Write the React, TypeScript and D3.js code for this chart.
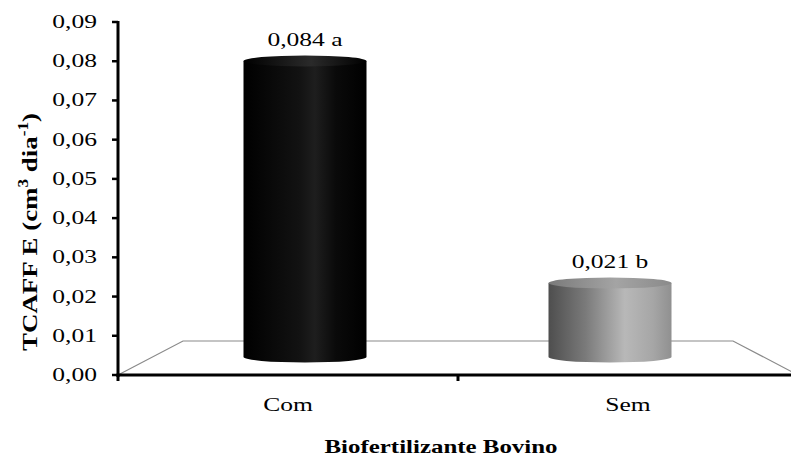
import React from "react";
import * as d3 from "d3";

const categories = ["Com", "Sem"];
const values = [0.084, 0.021];
const valueLabels = ["0,084 a", "0,021 b"];
const yTicks = [0, 0.01, 0.02, 0.03, 0.04, 0.05, 0.06, 0.07, 0.08, 0.09];
const xTitle = "Biofertilizante Bovino";

const W = 791;
const H = 457;
const FONT = "Liberation Serif";
const SX = 1.38;

export default function App() {
  // front-plane axis scale
  const yAxis = d3.scaleLinear().domain([0, 0.09]).range([375, 22]);
  // bar scale (mid-depth plane)
  const yBar = d3.scaleLinear().domain([0, 0.09]).range([357, 357 - 0.09 * 3524]);
  const xFront = d3.scaleBand().domain(categories).range([118, 798]);
  const xBar = d3.scalePoint().domain(categories).range([305, 610]);
  const barW = 123;
  const ry = 5.5;
  const depthDx = 65;
  const depthDy = -34;
  const x0 = xFront.range()[0];
  const x1 = xFront.range()[1];
  const y0 = yAxis(0);
  const fmt = (v: number) => d3.format(".2f")(v).replace(".", ",");

  const grads = [
    { id: "g0", stops: [["0%", "#000"], ["45%", "#121212"], ["58%", "#1e1e1e"], ["75%", "#0a0a0a"], ["100%", "#000"]] },
    { id: "g1", stops: [["0%", "#4e4e4e"], ["30%", "#7a7a7a"], ["62%", "#b8b8b8"], ["85%", "#a6a6a6"], ["100%", "#909090"]] },
  ];

  return (
    <svg width={W} height={H} style={{ position: "absolute", left: 0, top: 0, background: "#fff", fontFamily: FONT }}>
      <defs>
        {grads.map((g) => (
          <linearGradient key={g.id} id={g.id} x1="0" x2="1" y1="0" y2="0">
            {g.stops.map((s, i) => (
              <stop key={i} offset={s[0]} stopColor={s[1]} />
            ))}
          </linearGradient>
        ))}
        <linearGradient id="t0" x1="0" x2="1">
          <stop offset="0%" stopColor="#000" />
          <stop offset="55%" stopColor="#2a2a2a" />
          <stop offset="100%" stopColor="#000" />
        </linearGradient>
        <linearGradient id="t1" x1="0" x2="1">
          <stop offset="0%" stopColor="#7a7a7a" />
          <stop offset="55%" stopColor="#a4a4a4" />
          <stop offset="100%" stopColor="#8a8a8a" />
        </linearGradient>
      </defs>

      {/* floor */}
      <path
        d={`M${x0},${y0} L${x0 + depthDx},${y0 + depthDy} L${x1 - depthDx},${y0 + depthDy} L${x1},${y0}`}
        fill="none"
        stroke="#8a8a8a"
        strokeWidth={1.2}
      />

      {/* bars (cylinders) */}
      {categories.map((c, i) => {
        const cx = xBar(c)!;
        const yb = yBar(0);
        const yt = yBar(values[i]);
        const l = cx - barW / 2;
        const r = cx + barW / 2;
        return (
          <g key={c}>
            <path
              d={`M${l},${yt} L${l},${yb} A${barW / 2},${ry} 0 0 0 ${r},${yb} L${r},${yt} Z`}
              fill={`url(#g${i})`}
            />
            <ellipse cx={cx} cy={yt} rx={barW / 2} ry={ry} fill={`url(#t${i})`} />
            <text
              transform={`translate(${cx},${yt - 15}) scale(${SX},1)`}
              textAnchor="middle"
              fontSize={18.5}
              fill="#000"
            >
              {valueLabels[i]}
            </text>
          </g>
        );
      })}

      {/* y axis */}
      <line x1={x0} x2={x0} y1={yAxis(0.09) - 1} y2={y0 + 2} stroke="#000" strokeWidth={3} />
      {yTicks.map((t) => (
        <g key={t}>
          <line x1={x0 - 6} x2={x0} y1={yAxis(t)} y2={yAxis(t)} stroke="#000" strokeWidth={2.5} />
          <text
            transform={`translate(${x0 - 21},${yAxis(t) + 6}) scale(${SX},1)`}
            textAnchor="end"
            fontSize={18.5}
            fill="#000"
          >
            {fmt(t)}
          </text>
        </g>
      ))}

      {/* x axis */}
      <line x1={x0 - 1.5} x2={W} y1={y0} y2={y0} stroke="#000" strokeWidth={3} />
      {[x0, x0 + xFront.step()].map((x, i) => (
        <line key={i} x1={x} x2={x} y1={y0} y2={y0 + 6} stroke="#000" strokeWidth={3} />
      ))}
      {categories.map((c) => (
        <text
          key={c}
          transform={`translate(${xFront(c)! + xFront.bandwidth() / 2},${411}) scale(${SX},1)`}
          textAnchor="middle"
          fontSize={18.5}
          fill="#000"
        >
          {c}
        </text>
      ))}

      {/* axis titles */}
      <text x={441} y={453} textAnchor="middle" fontSize={19} fontWeight="bold" textLength={233} lengthAdjust="spacingAndGlyphs">
        {xTitle}
      </text>
      <text
        transform={`translate(37,232) rotate(-90)`}
        textAnchor="middle"
        fontSize={22}
        fontWeight="bold"
        textLength={238}
        lengthAdjust="spacingAndGlyphs"
      >
        TCAFF E (cm<tspan dy={-9} fontSize={14}>3</tspan>
        <tspan dy={9}> dia</tspan>
        <tspan dy={-9} fontSize={14}>-1</tspan>
        <tspan dy={9}>)</tspan>
      </text>
    </svg>
  );
}
